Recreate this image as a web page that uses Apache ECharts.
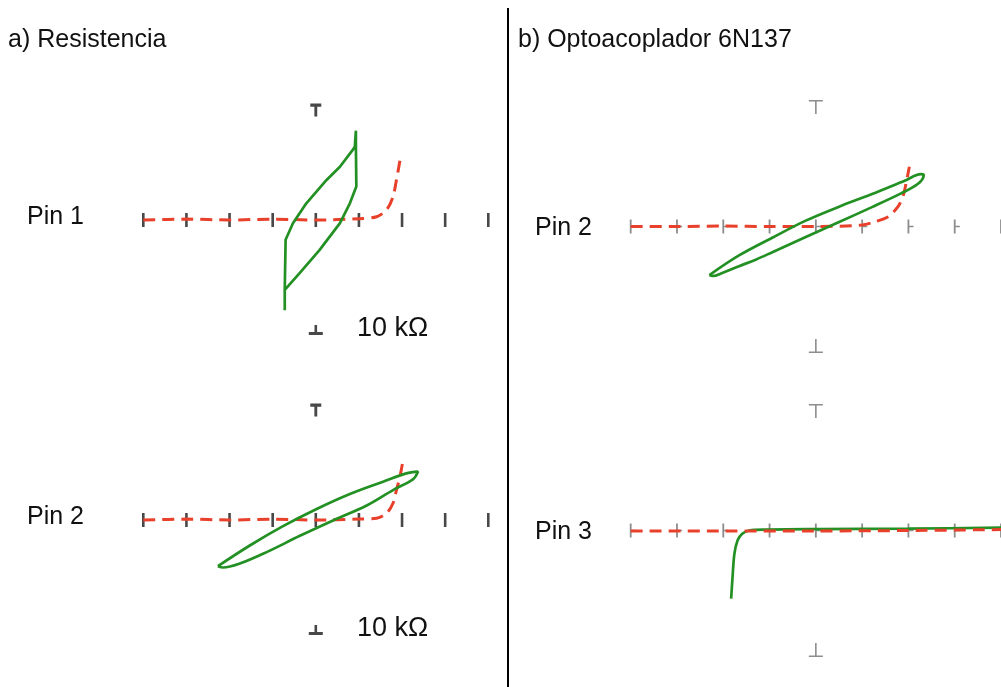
<!DOCTYPE html>
<html>
<head>
<meta charset="utf-8">
<script src="https://cdn.jsdelivr.net/npm/echarts@6/dist/echarts.min.js"></script>
<style>html,body{margin:0;padding:0;background:#fff}#c{width:1001px;height:687px}</style>
</head>
<body>
<div id="c"></div>
<script>
// ---- data (x in horizontal divisions, y in vertical divisions) ----
var ticks = [-4, -3, -2, -1, 0, 1, 2, 3, 4];

var aPin1Red = [[-4,0],[-3,0.02],[-2,0],[-1,0.02],[0,0],[1,0.03],[1.41,0.075],[1.64,0.23],[1.79,0.53],[1.87,0.91],[1.96,1.40]];
var aPin1Green = [[-0.72,-2.05],[-0.72,-1.59],[-0.70,-0.45],[-0.53,-0.075],[-0.22,0.38],[0.25,0.91],[0.56,1.21],[0.87,1.61],[0.905,1.67],[0.93,2.03],[0.93,1.67],[0.94,0.76],[0.79,0.38],[0.56,-0.07],[0.09,-0.68],[-0.37,-1.2],[-0.72,-1.59]];

var aPin2Red = [[-4,0],[-3,0.02],[-2,0],[-1,0.02],[0,0],[1,0.02],[1.41,0.04],[1.64,0.15],[1.79,0.38],[1.87,0.68],[1.95,0.98],[2.01,1.29]];
var aPin2Green = [[-2.27,-1.05],[-1.53,-0.58],[-0.76,-0.14],[0.02,0.25],[0.79,0.59],[1.56,0.87],[2.10,1.06],[2.37,1.10],[2.26,0.93],[1.79,0.68],[1.18,0.33],[0.40,-0.01],[-0.37,-0.36],[-1.14,-0.73],[-1.76,-0.99],[-2.15,-1.08],[-2.27,-1.05]];

var bPin2Red = [[-4,0],[-3,0],[-2,0.01],[-1,0],[0,0],[1,0.03],[1.27,0.10],[1.56,0.21],[1.77,0.42],[1.88,0.64],[1.95,0.93],[2.02,1.28]];
var bPin2Green = [[-2.30,-1.04],[-1.66,-0.62],[-0.94,-0.24],[-0.23,0.12],[0.49,0.42],[1.20,0.69],[1.92,0.98],[2.27,1.12],[2.33,1.10],[2.20,0.91],[1.84,0.71],[1.20,0.41],[0.49,0.09],[-0.23,-0.23],[-0.94,-0.55],[-1.30,-0.71],[-1.66,-0.85],[-2.01,-0.99],[-2.23,-1.06],[-2.30,-1.04]];

var bPin3Red = [[-4,-0.01],[-2,-0.01],[0,-0.01],[2,0],[4,0.02]];
var bPin3Green = [[-1.83,-1.46],[-1.80,-1.0],[-1.76,-0.50],[-1.69,-0.21],[-1.59,-0.07],[-1.44,0.0],[-1.08,0.02],[0,0.03],[2,0.04],[4,0.06]];

var panelTitles = ['a) Resistencia', 'b) Optoacoplador 6N137'];
var pinLabels = ['Pin 1', 'Pin 2', 'Pin 2', 'Pin 3'];
var resistorLabel = '10 k\u03A9';

// ---- layout ----
var grids = [
  {left: 143.3, top: 110, width: 345, height: 220},
  {left: 143.3, top: 410, width: 345, height: 220},
  {left: 630.7, top: 107, width: 373.3, height: 239},
  {left: 630.7, top: 411, width: 373.3, height: 239}
];
var yHalf = [2.5, 2.5, 2.56, 2.56];
var reds = [aPin1Red, aPin2Red, bPin2Red, bPin3Red];
var greens = [aPin1Green, aPin2Green, bPin2Green, bPin3Green];
var smoothG = [false, 0.35, 0.35, 0.3];

var RED = '#e8402a', GREEN = '#239023';
var xAxes = [], yAxes = [], series = [];
grids.forEach(function (g, i) {
  xAxes.push({type: 'value', gridIndex: i, min: -4, max: 4, show: false});
  yAxes.push({type: 'value', gridIndex: i, min: -yHalf[i], max: yHalf[i], show: false});
  var isA = i < 2;
  var tickColor = isA ? '#1a1a1a' : '#707070';
  series.push({
    type: 'scatter', xAxisIndex: i, yAxisIndex: i, silent: true, z: 1,
    symbol: isA ? 'rect' : 'path://M0,0H1.8V6.3H6V7.7H1.8V14H0Z',
    symbolSize: isA ? [2.6, 14] : [6, 14],
    symbolOffset: isA ? [0, 0] : [2.1, 0],
    itemStyle: {color: tickColor},
    data: ticks.map(function (t) { return [t, 0]; })
  });
  series.push({
    type: 'scatter', xAxisIndex: i, yAxisIndex: i, silent: true, z: 1,
    symbol: isA ? 'path://M0,0H10V3H6.3V12H3.7V3H0Z' : 'path://M0,0H14V1.6H7.8V14H6.2V1.6H0Z',
    symbolSize: isA ? [11, 13] : [14, 14],
    itemStyle: {color: tickColor},
    data: [[0, yHalf[i]]]
  });
  series.push({
    type: 'scatter', xAxisIndex: i, yAxisIndex: i, silent: true, z: 1,
    symbol: isA ? 'path://M5.7,0H8.3V7H14V10H0V7H5.7Z' : 'path://M6.2,0H7.8V12.4H14V14H0V12.4H6.2Z',
    symbolSize: isA ? [14, 10] : [14, 14],
    itemStyle: {color: tickColor},
    data: [[0, -yHalf[i]]]
  });
  series.push({
    type: 'line', xAxisIndex: i, yAxisIndex: i, silent: true, z: i === 3 ? 3 : 2,
    showSymbol: false, smooth: 0.3, clip: false,
    lineStyle: {color: RED, width: 3, type: [12, 7]},
    data: reds[i]
  });
  series.push({
    type: 'line', xAxisIndex: i, yAxisIndex: i, silent: true, z: i === 3 ? 2 : 3,
    showSymbol: false, smooth: smoothG[i], clip: false,
    lineStyle: {color: GREEN, width: 2.7},
    data: greens[i]
  });
});

var FONT = '"Liberation Sans", Arial, sans-serif';
function txt(x, y, s, size, align) {
  return {type: 'text', x: x, y: y, style: {text: s, fill: '#111', font: size + 'px ' + FONT, textAlign: align || 'left', textVerticalAlign: 'middle'}};
}
var graphics = [
  {type: 'line', shape: {x1: 508, y1: 8, x2: 508, y2: 687}, style: {stroke: '#000', lineWidth: 2}},
  txt(8, 40, panelTitles[0], 25),
  txt(518, 40, panelTitles[1], 25),
  txt(27, 217, pinLabels[0], 25),
  txt(27, 517, pinLabels[1], 25),
  txt(535, 228, pinLabels[2], 25),
  txt(535, 532, pinLabels[3], 25),
  txt(357, 329, resistorLabel, 27),
  txt(357, 629, resistorLabel, 27)
];

var chart = echarts.init(document.getElementById('c'), null, {renderer: 'canvas'});
chart.setOption({
  animation: false,
  backgroundColor: '#ffffff',
  grid: grids,
  xAxis: xAxes,
  yAxis: yAxes,
  series: series,
  graphic: graphics
});
</script>
</body>
</html>
